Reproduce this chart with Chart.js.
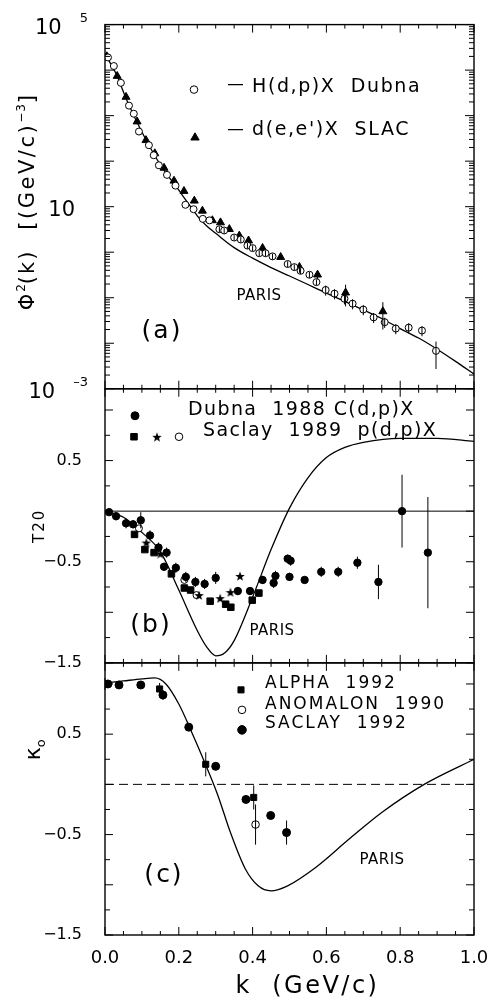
<!DOCTYPE html>
<html>
<head>
<meta charset="utf-8">
<script src="https://cdn.jsdelivr.net/npm/chart.js@4.4.0/dist/chart.umd.min.js"></script>
<style>
  html, body { margin: 0; padding: 0; background: #fff; }
  #wrap { width: 489px; height: 1006px; overflow: hidden; }
</style>
</head>
<body>
<div id="wrap"><canvas id="fig" width="489" height="1006"></canvas></div>
<script>
// ---- panel (a): momentum distribution, log scale
const parisAK   = [0, 0.03, 0.06, 0.1, 0.15, 0.2, 0.225, 0.25, 0.275, 0.3, 0.35, 0.4, 0.45, 0.5, 0.55, 0.6, 0.65, 0.7, 0.75, 0.8, 0.85, 0.9, 0.95, 1.0];
const parisAPhi = [22400, 8300, 2100, 437, 83, 23, 12, 6.3, 3.8, 2.6, 1.26, 0.74, 0.46, 0.30, 0.195, 0.126, 0.083, 0.054, 0.035, 0.021, 0.013, 0.0074, 0.004, 0.0021];

const dubnaK   = [0.008, 0.024, 0.043, 0.065, 0.078, 0.092, 0.119, 0.132, 0.146, 0.168, 0.191, 0.218, 0.24, 0.265, 0.283, 0.31, 0.323, 0.35, 0.368, 0.386, 0.40, 0.418, 0.435, 0.454, 0.495, 0.513, 0.53, 0.554, 0.573, 0.598, 0.622, 0.649, 0.671, 0.70, 0.728, 0.758, 0.788, 0.823, 0.859, 0.897];
const dubnaPhi = [19000, 12300, 5250, 1660, 1100, 447, 224, 135, 81, 50, 29, 11, 8.8, 5.4, 5.0, 3.2, 3.0, 2.1, 1.9, 1.4, 1.23, 0.95, 0.95, 0.81, 0.55, 0.47, 0.39, 0.32, 0.22, 0.148, 0.123, 0.095, 0.074, 0.055, 0.037, 0.029, 0.021, 0.022, 0.019, 0.0068];
const dubnaErr = [0, 0, 0, 0, 0, 0, 0, 0, 0, 0, 0, 0, 0, 0, 0, 0.15, 0.15, 0.15, 0.15, 0.15, 0.15, 0.15, 0.15, 0.15, 0.15, 0.15, 0.15, 0.15, 0.15, 0.25, 0.25, 0.25, 0.25, 0.25, 0.25, 0.25, 0.25, 0.25, 0.25, 0.6];

const slacK   = [0.005, 0.033, 0.057, 0.087, 0.111, 0.135, 0.16, 0.187, 0.214, 0.242, 0.264, 0.291, 0.313, 0.337, 0.364, 0.389, 0.427, 0.476, 0.527, 0.576, 0.652, 0.753];
const slacPhi = [20000, 7400, 2570, 740, 288, 148, 71, 37, 22, 13.5, 8.1, 5.0, 4.5, 3.2, 2.3, 1.8, 1.23, 0.78, 0.47, 0.32, 0.129, 0.050];
const slacErr = [0, 0, 0, 0, 0, 0, 0, 0, 0, 0, 0, 0, 0, 0, 0, 0, 0, 0, 0.25, 0.2, 0.5, 0.6];

// ---- panel (b): T20
const parisBK = [0, 0.05, 0.1, 0.15, 0.2, 0.25, 0.275, 0.3, 0.325, 0.35, 0.4, 0.45, 0.5, 0.55, 0.6, 0.65, 0.7, 0.8, 0.9, 1.0];
const parisBT = [0, -0.06, -0.21, -0.40, -0.78, -1.18, -1.34, -1.43, -1.40, -1.28, -0.85, -0.38, 0.03, 0.33, 0.53, 0.63, 0.68, 0.72, 0.72, 0.69];

const dubna88K   = [0.011, 0.03, 0.057, 0.076, 0.097, 0.122, 0.145, 0.160, 0.167, 0.192, 0.219, 0.245, 0.270, 0.300, 0.360, 0.393, 0.427, 0.457, 0.462, 0.495, 0.503, 0.500, 0.541, 0.586, 0.632, 0.684, 0.741, 0.805, 0.875];
const dubna88T   = [-0.01, -0.05, -0.12, -0.13, -0.09, -0.24, -0.36, -0.55, -0.41, -0.56, -0.65, -0.70, -0.72, -0.66, -0.79, -0.79, -0.68, -0.71, -0.64, -0.47, -0.49, -0.65, -0.68, -0.60, -0.60, -0.51, -0.70, 0.00, -0.41];
const dubna88Err = [0.03, 0.04, 0.05, 0.04, 0.08, 0.05, 0.05, 0.04, 0.05, 0.05, 0.05, 0.05, 0.05, 0.06, 0.04, 0.04, 0.04, 0.05, 0.05, 0.04, 0.05, 0.04, 0.03, 0.05, 0.05, 0.06, 0.17, 0.36, 0.55];

const saclaySqK = [0.080, 0.108, 0.133, 0.180, 0.215, 0.232, 0.285, 0.327, 0.341, 0.399, 0.417];
const saclaySqT = [-0.23, -0.38, -0.41, -0.62, -0.76, -0.78, -0.89, -0.92, -0.95, -0.88, -0.81];

const saclayStarK = [0.112, 0.150, 0.255, 0.312, 0.340, 0.366];
const saclayStarT = [-0.31, -0.42, -0.83, -0.86, -0.80, -0.64];

const saclayOpenK = [0.092, 0.215, 0.248];
const saclayOpenT = [-0.17, -0.68, -0.83];

// ---- panel (c): kappa_0
const parisCK     = [0, 0.05, 0.1, 0.135, 0.165, 0.2, 0.235, 0.27, 0.305, 0.34, 0.38, 0.415, 0.45, 0.495, 0.57, 0.66, 0.75, 0.865, 1.0];
const parisCKappa = [1.01, 1.03, 1.05, 1.06, 1.0, 0.80, 0.52, 0.22, -0.10, -0.48, -0.84, -1.01, -1.06, -1.01, -0.83, -0.55, -0.28, 0.0, 0.25];

const saclay92K     = [0.008, 0.038, 0.097, 0.157, 0.227, 0.300, 0.382, 0.449, 0.492];
const saclay92Kappa = [1.00, 0.99, 0.99, 0.89, 0.57, 0.18, -0.15, -0.31, -0.48];
const saclay92Err   = [0, 0, 0, 0.05, 0, 0, 0, 0, 0.12];

const alphaK     = [0.0, 0.148, 0.273, 0.403];
const alphaKappa = [1.0, 0.95, 0.20, -0.13];
const alphaErr   = [0.06, 0.06, 0.12, 0.12];

const anomK     = [0.408];
const anomKappa = [-0.40];
const anomErr   = [0.2];

// reference lines and tick labels
const zeroK = [0, 1];
const zeroV = [0, 0];
const logTickLabels = [1e5, 1e1, 1e-3];
const linTickLabels = [0.5, -0.5, -1.5];

const FONT = '"DejaVu Sans", "Liberation Sans", sans-serif';

function starImage(size) {
  const c = document.createElement('canvas');
  c.width = c.height = size;
  const g = c.getContext('2d');
  const r = size / 2, ri = r * 0.42;
  g.fillStyle = '#000';
  g.beginPath();
  for (let i = 0; i < 10; i++) {
    const ang = -Math.PI / 2 + i * Math.PI / 5;
    const rr = i % 2 ? ri : r;
    const px = r + rr * Math.cos(ang), py = r + 0.6 + rr * Math.sin(ang);
    if (i) g.lineTo(px, py); else g.moveTo(px, py);
  }
  g.closePath();
  g.fill();
  return c;
}
const star = starImage(10);

const pts = (xs, ys, es) => xs.map((x, i) => ({x: x, y: ys[i], err: es ? es[i] : 0}));

function txt(ctx, s, x, y, size, o) {
  o = o || {};
  ctx.font = size + 'px ' + FONT;
  ctx.letterSpacing = (o.ls || 0) + 'px';
  ctx.textAlign = o.align || 'left';
  ctx.textBaseline = 'middle';
  ctx.fillText(s, x, y);
  return ctx.measureText(s).width;
}

// segments drawn one after another, rotated about their centre
function rich(ctx, segs, cx, cy, rot) {
  ctx.save();
  ctx.translate(cx, cy);
  ctx.rotate(rot);
  ctx.textAlign = 'left';
  ctx.textBaseline = 'alphabetic';
  let w = 0;
  segs.forEach(g => {
    ctx.font = g.size + 'px ' + FONT;
    ctx.letterSpacing = (g.ls || 0) + 'px';
    g.w = ctx.measureText(g.t).width;
    w += g.w;
  });
  let x = -w / 2;
  segs.forEach(g => {
    ctx.font = g.size + 'px ' + FONT;
    ctx.letterSpacing = (g.ls || 0) + 'px';
    ctx.fillText(g.t, x, 7 + (g.dy || 0));
    x += g.w;
  });
  ctx.restore();
}

function marker(ctx, style, r, fill, x, y) {
  if (style === 'star') { ctx.drawImage(star, x - 5, y - 5); return; }
  ctx.fillStyle = fill;
  ctx.strokeStyle = '#000';
  ctx.lineWidth = 1;
  Chart.helpers.drawPoint(ctx, {pointStyle: style, radius: r, rotation: 0, borderWidth: 1}, x, y);
}

const errorBars = {
  id: 'errorBars',
  afterDatasetsDraw(chart) {
    const ctx = chart.ctx, xs = chart.scales.x;
    ctx.save();
    ctx.strokeStyle = '#000';
    ctx.lineWidth = 1;
    ctx.beginPath();
    chart.data.datasets.forEach((ds, i) => {
      if (!ds.errMode) return;
      const ys = chart.scales[chart.getDatasetMeta(i).yAxisID];
      ds.data.forEach(p => {
        if (!p.err) return;
        const px = xs.getPixelForValue(p.x);
        const hi = ds.errMode === 'rel' ? p.y * (1 + p.err) : p.y + p.err;
        const lo = ds.errMode === 'rel' ? p.y * (1 - p.err) : p.y - p.err;
        ctx.moveTo(px, ys.getPixelForValue(hi));
        ctx.lineTo(px, ys.getPixelForValue(lo));
      });
    });
    ctx.stroke();
    ctx.restore();
  }
};

const frames = {
  id: 'frames',
  afterDraw(chart) {
    const ctx = chart.ctx, A = chart.chartArea, xs = chart.scales.x;
    ctx.save();
    ctx.strokeStyle = '#000';
    ['ya', 'yb', 'yc'].forEach(id => {
      const s = chart.scales[id];
      ctx.lineWidth = 1.4;
      ctx.strokeRect(A.left, s.top, A.right - A.left, s.bottom - s.top);
      ctx.lineWidth = 1;
      ctx.beginPath();
      for (let i = 0; i <= 20; i++) {
        const px = xs.getPixelForValue(i * 0.05), len = i % 4 ? 4 : 8;
        ctx.moveTo(px, s.top); ctx.lineTo(px, s.top + len);
        ctx.moveTo(px, s.bottom); ctx.lineTo(px, s.bottom - len);
      }
      const yt = [];
      if (s.type === 'logarithmic') {
        for (let e = -3; e <= 5; e++) {
          for (let m = 1; m <= 9; m++) {
            const v = m * Math.pow(10, e);
            if (v > s.max * 1.0001) break;
            yt.push([v, m === 1 ? 9 : 5]);
          }
        }
      } else {
        for (let v = s.min; v <= s.max + 1e-9; v += 0.25) {
          yt.push([v, Math.abs(v * 2 - Math.round(v * 2)) < 1e-6 ? 8 : 5]);
        }
      }
      yt.forEach(([v, len]) => {
        const py = s.getPixelForValue(v);
        ctx.moveTo(A.left, py); ctx.lineTo(A.left + len, py);
        ctx.moveTo(A.right, py); ctx.lineTo(A.right - len, py);
      });
      ctx.stroke();
    });
    ctx.restore();
  }
};

const labels = {
  id: 'labels',
  afterDraw(chart) {
    const ctx = chart.ctx, A = chart.chartArea, L = A.left;
    const sa = chart.scales.ya, sb = chart.scales.yb, sc = chart.scales.yc;
    ctx.save();
    ctx.fillStyle = '#000';

    // log axis labels 10^5, 10, 10^-3
    logTickLabels.forEach(v => {
      const py = sa.getPixelForValue(v);
      const ex = Math.round(Math.log10(v));
      if (ex === 1) {
        txt(ctx, '10', L - 30, py + 4, 21, {align: 'right'});
      } else {
        const es = ex < 0 ? '\u2013' + (-ex) : String(ex);
        const w = txt(ctx, es, L - 17, py - 6, 13, {align: 'right'});
        txt(ctx, '10', L - 17 - w - 18, py + 3.5, 21, {align: 'right'});
      }
    });

    // y titles
    rich(ctx, [
      {t: '\u03A6', size: 21, ls: 2},
      {t: '2', size: 12, dy: -9},
      {t: '(k)', size: 21, ls: 2},
      {t: '   ', size: 21},
      {t: '[(GeV/c)', size: 21, ls: 2.5},
      {t: '\u2212' + '3', size: 12, dy: -9, ls: 1},
      {t: ']', size: 21}
    ], 27, (sa.top + sa.bottom) / 2 - 4, -Math.PI / 2);
    rich(ctx, [{t: 'T20', size: 15, ls: 2}], 37, (sb.top + sb.bottom) / 2, -Math.PI / 2);
    rich(ctx, [{t: '\u03BA', size: 22}, {t: 'o', size: 13, dy: 5}], 33, sc.top + 87, -Math.PI / 2);

    // x title
    txt(ctx, 'k  (GeV/c)', (A.left + A.right) / 2 + 18, 987, 24, {align: 'center', ls: 2.5});

    // panel (a)
    let T = sa.top;
    marker(ctx, 'circle', 3.8, '#fff', L + 89, T + 65);
    marker(ctx, 'triangle', 4.8, '#000', L + 90, T + 113);
    ctx.strokeStyle = '#000'; ctx.lineWidth = 1.4;
    ctx.beginPath();
    ctx.moveTo(L + 123, T + 60); ctx.lineTo(L + 138, T + 60);
    ctx.moveTo(L + 123, T + 105); ctx.lineTo(L + 138, T + 105);
    ctx.stroke();
    ctx.fillStyle = '#000';
    txt(ctx, 'H(d,p)X  Dubna', L + 147, T + 62, 19, {ls: 1.6});
    txt(ctx, "d(e,e')X  SLAC", L + 147, T + 105, 19, {ls: 1.6});
    txt(ctx, 'PARIS', L + 154, T + 272, 15, {align: 'center', ls: 0.5});
    txt(ctx, '(a)', L + 57, T + 307, 25, {align: 'center', ls: 2});

    // panel (b)
    T = sb.top;
    marker(ctx, 'circle', 4, '#000', L + 30, T + 27);
    marker(ctx, 'rect', 4.6, '#000', L + 29, T + 48);
    marker(ctx, 'star', 0, '#000', L + 52, T + 48);
    marker(ctx, 'circle', 3.8, '#fff', L + 74, T + 48);
    ctx.fillStyle = '#000';
    txt(ctx, 'Dubna  1988 C(d,p)X', L + 83, T + 21, 19, {ls: 1.4});
    txt(ctx, 'Saclay  1989  p(d,p)X', L + 98, T + 42, 19, {ls: 1.4});
    txt(ctx, 'PARIS', L + 167, T + 242, 15, {align: 'center', ls: 0.5});
    txt(ctx, '(b)', L + 46, T + 237, 25, {align: 'center', ls: 2});

    // panel (c)
    T = sc.top;
    marker(ctx, 'rect', 4.3, '#000', L + 136, T + 27);
    marker(ctx, 'circle', 3.8, '#fff', L + 137, T + 47);
    marker(ctx, 'circle', 4.3, '#000', L + 137, T + 67);
    ctx.fillStyle = '#000';
    txt(ctx, 'ALPHA  1992', L + 160, T + 21, 17, {ls: 2});
    txt(ctx, 'ANOMALON  1990', L + 160, T + 42, 17, {ls: 2});
    txt(ctx, 'SACLAY  1992', L + 160, T + 61, 17, {ls: 2});
    txt(ctx, 'PARIS', L + 277, T + 197, 15, {align: 'center', ls: 0.5});
    txt(ctx, '(c)', L + 59, T + 213, 25, {align: 'center', ls: 2});

    ctx.restore();
  }
};

const curve = (xs, ys, axis) => ({
  data: pts(xs, ys), yAxisID: axis, showLine: true, pointRadius: 0,
  borderColor: '#000', borderWidth: 1.3, cubicInterpolationMode: 'monotone', fill: false
});
const zeroLine = (axis, dash) => ({
  data: pts(zeroK, zeroV), yAxisID: axis, showLine: true, pointRadius: 0,
  borderColor: '#000', borderWidth: 1, borderDash: dash, fill: false
});
const points = (data, axis, style, r, fill, mode) => ({
  data: data, yAxisID: axis, showLine: false, pointStyle: style, pointRadius: r,
  backgroundColor: fill, borderColor: '#000', borderWidth: 1, errMode: mode
});

const sideAxis = (extra) => Object.assign({
  position: 'left', stack: 'panels', grid: {display: false}, border: {display: false},
  afterFit: s => { s.width = 105; }
}, extra);
const linTicks = {
  stepSize: 0.25, includeBounds: false, color: '#000', padding: 15,
  font: {family: FONT, size: 16},
  callback: v => linTickLabels.includes(v) ? String(v).replace('-', '\u2212') : ''
};

new Chart(document.getElementById('fig'), {
  type: 'scatter',
  data: {
    datasets: [
      points(pts(dubnaK, dubnaPhi, dubnaErr), 'ya', 'circle', 3.5, '#fff', 'rel'),
      points(pts(slacK, slacPhi, slacErr), 'ya', 'triangle', 4.6, '#000', 'rel'),
      points(pts(dubna88K, dubna88T, dubna88Err), 'yb', 'circle', 3.7, '#000', 'abs'),
      points(pts(saclaySqK, saclaySqT), 'yb', 'rect', 4.6, '#000'),
      points(pts(saclayStarK, saclayStarT), 'yb', star, 4, '#000'),
      points(pts(saclayOpenK, saclayOpenT), 'yb', 'circle', 3.5, '#fff'),
      points(pts(saclay92K, saclay92Kappa, saclay92Err), 'yc', 'circle', 4, '#000', 'abs'),
      points(pts(alphaK, alphaKappa, alphaErr), 'yc', 'rect', 4.3, '#000', 'abs'),
      points(pts(anomK, anomKappa, anomErr), 'yc', 'circle', 3.8, '#fff', 'abs'),
      curve(parisAK, parisAPhi, 'ya'),
      curve(parisBK, parisBT, 'yb'),
      curve(parisCK, parisCKappa, 'yc'),
      zeroLine('yb', []),
      zeroLine('yc', [9, 5])
    ]
  },
  options: {
    responsive: false,
    animation: false,
    events: [],
    devicePixelRatio: 1,
    layout: {padding: {top: 15, right: 0, left: 0, bottom: 0}},
    plugins: {legend: {display: false}, tooltip: {enabled: false}},
    scales: {
      x: {
        type: 'linear', min: 0, max: 1, position: 'bottom',
        grid: {display: false}, border: {display: false},
        ticks: {stepSize: 0.2, color: '#000', padding: 5, maxRotation: 0,
                font: {family: FONT, size: 18}, callback: v => v.toFixed(1)},
        afterFit: s => { s.height = 71; s.paddingLeft = 0; s.paddingRight = 15; }
      },
      ya: sideAxis({type: 'logarithmic', min: 1e-3, max: 1e5, stackWeight: 368, weight: 3,
                    ticks: {display: false}}),
      yb: sideAxis({type: 'linear', min: -1.5, max: 1.21, stackWeight: 277, weight: 2, ticks: linTicks}),
      yc: sideAxis({type: 'linear', min: -1.5, max: 1.21, stackWeight: 275, weight: 1, ticks: linTicks})
    }
  },
  plugins: [errorBars, frames, labels]
});
</script>
</body>
</html>
